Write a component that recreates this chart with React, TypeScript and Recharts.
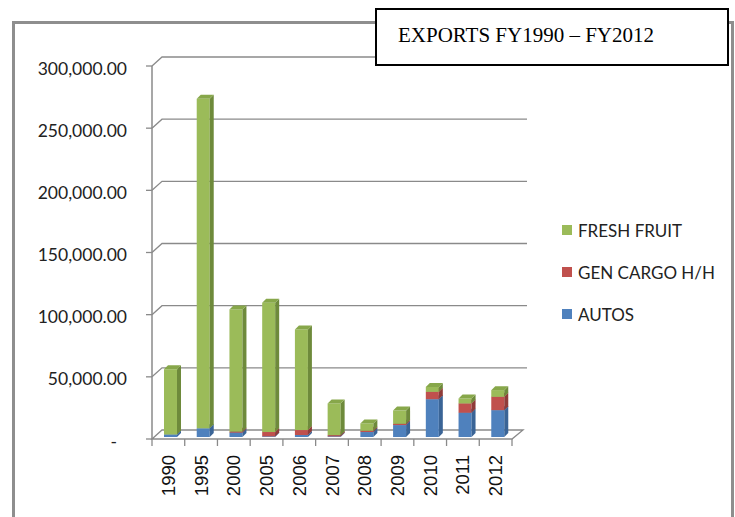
import { BarChart, Bar, XAxis, YAxis, CartesianGrid } from 'recharts'

const years = ['1990', '1995', '2000', '2005', '2006', '2007', '2008', '2009', '2010', '2011', '2012']
const autos = [2000, 7000, 3500, 500, 1600, 500, 4000, 9600, 30400, 19500, 21600]
const genCargo = [0, 0, 800, 3500, 4000, 1000, 1000, 1000, 5900, 7500, 10700]
const freshFruit = [52500, 265000, 98300, 104000, 80900, 25500, 5900, 10700, 4000, 4000, 5400]
const yTicks = [0, 50000, 100000, 150000, 200000, 250000, 300000]

const data = years.map((year, i) => ({
  year,
  autos: autos[i],
  genCargo: genCargo[i],
  freshFruit: freshFruit[i],
}))

const SERIES = [
  { key: 'autos', name: 'AUTOS', front: '#4F81BD', side: '#3A6496', top: '#4674AA' },
  { key: 'genCargo', name: 'GEN CARGO H/H', front: '#C0504D', side: '#8F3B39', top: '#A94644' },
  { key: 'freshFruit', name: 'FRESH FRUIT', front: '#9BBB59', side: '#6E8A3B', top: '#87A74A' },
]

const GRID = '#8A8A8A'
const SANS = 'Lato, "Noto Sans", sans-serif'
// depth of the 3D wall and of the bars
const WALL_DX = 10
const WALL_DY = 9
const BAR_D = 4

const make3DBar = (side: string, top: string) => (props: any) => {
  const { fill } = props
  let { x, y, width, height } = props
  if (!height || height <= 0) return <g />
  x += 2
  y -= 2
  return (
    <g>
      <rect x={x} y={y} width={width} height={height} fill={fill} />
      <polygon
        points={`${x + width},${y} ${x + width + BAR_D},${y - BAR_D} ${x + width + BAR_D},${y + height - BAR_D} ${x + width},${y + height}`}
        fill={side}
      />
      <polygon
        points={`${x},${y} ${x + BAR_D},${y - BAR_D} ${x + width + BAR_D},${y - BAR_D} ${x + width},${y}`}
        fill={top}
      />
    </g>
  )
}

const GridLine = (p: any) => {
  const { x1, y1, x2 } = p
  if (y1 > 420) {
    // floor: back edge, front edge, category tick marks
    const front = x2 - WALL_DX
    const step = (front - x1) / years.length
    const ticks = years.map((_, i) => x1 + step * (i + 1))
    return (
      <g key={`floor-${y1}`}>
        <path
          d={`M${x1},${y1} L${x1 + WALL_DX},${y1 - WALL_DY} L${x2 + 1},${y1 - WALL_DY} L${front},${y1} Z`}
          stroke={GRID}
          strokeWidth={1.3}
          fill="none"
        />
        {[x1, ...ticks].map((tx) => (
          <line key={tx} x1={tx} y1={y1} x2={tx} y2={y1 + 7} stroke={GRID} strokeWidth={1.3} />
        ))}
      </g>
    )
  }
  return (
    <path
      key={`grid-${y1}`}
      d={`M${x1},${y1} L${x1 + WALL_DX},${y1 - WALL_DY} L${x2 + 5},${y1 - WALL_DY}`}
      stroke={GRID}
      strokeWidth={1.3}
      fill="none"
    />
  )
}

const YTick = (props: any) => {
  const { x, y, payload } = props
  const v = payload.value as number
  const label = v === 0 ? '-' : v.toLocaleString('en-US', { minimumFractionDigits: 2 })
  return (
    <text
      x={v === 0 ? x - 10 : x}
      y={y + 2}
      textAnchor="end"
      dominantBaseline="central"
      fontFamily={SANS}
      fontSize={17.5}
      fill="#222"
    >
      {label}
    </text>
  )
}

const XTick = (props: any) => {
  const { x, y, payload } = props
  const ty = y + 8
  return (
    <text
      x={x}
      y={ty}
      transform={`rotate(-90 ${x} ${ty})`}
      textAnchor="end"
      dominantBaseline="central"
      fontFamily='"Liberation Sans", Arial, sans-serif'
      fontSize={18.5}
      fill="#111"
    >
      {payload.value}
    </text>
  )
}

export default function App() {
  return (
    <div style={{ position: 'absolute', left: 0, top: 0, width: 735, height: 517, background: '#fff', overflow: 'hidden' }}>
      <div
        style={{
          position: 'absolute',
          left: 12,
          top: 21,
          width: 722,
          height: 520,
          border: '3px solid #8E8E8E',
          boxSizing: 'border-box',
        }}
      />
      <div style={{ position: 'absolute', left: 0, top: 0 }}>
        <BarChart
          width={735}
          height={517}
          data={data}
          margin={{ top: 66, right: 213, bottom: 18, left: 0 }}
        >
          <CartesianGrid vertical={false} horizontal={GridLine as any} />
          <XAxis
            dataKey="year"
            axisLine={false}
            tickLine={false}
            padding={{ left: 0, right: WALL_DX }}
            height={60}
            interval={0}
            tick={<XTick />}
          />
          <YAxis
            domain={[0, 300000]}
            ticks={yTicks}
            width={152}
            tickSize={6}
            tickMargin={19}
            axisLine={{ stroke: GRID, strokeWidth: 1.5 }}
            tickLine={{ stroke: GRID, strokeWidth: 1.3 }}
            tick={<YTick />}
            interval={0}
          />
          {SERIES.map((s) => (
            <Bar
              key={s.key}
              dataKey={s.key}
              name={s.name}
              stackId="a"
              fill={s.front}
              barSize={13}
              shape={make3DBar(s.side, s.top)}
              isAnimationActive={false}
            />
          ))}
        </BarChart>
      </div>
      <div style={{ position: 'absolute', left: 562, top: 209, fontFamily: SANS, fontSize: 17, color: '#222' }}>
        {[...SERIES].reverse().map((s) => (
          <div key={s.key} style={{ display: 'flex', alignItems: 'center', height: 42 }}>
            <span style={{ width: 10, height: 10, background: s.front, marginRight: 6 }} />
            <span>{s.name}</span>
          </div>
        ))}
      </div>
      <div
        style={{
          position: 'absolute',
          left: 375,
          top: 8,
          width: 354,
          height: 58,
          border: '2px solid #000',
          boxSizing: 'border-box',
          background: '#fff',
          fontFamily: '"Liberation Serif", "Times New Roman", serif',
          fontSize: 21,
          paddingLeft: 21,
          lineHeight: '50px',
          color: '#000',
        }}
      >
        EXPORTS FY1990 – FY2012
      </div>
    </div>
  )
}
